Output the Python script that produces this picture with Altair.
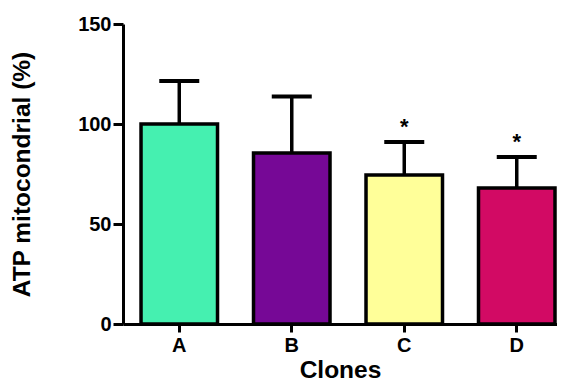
import altair as alt
import pandas as pd

clones = ["A", "B", "C", "D"]
means = [100, 85.5, 74.5, 68]
err_tops = [121.5, 113.7, 91, 83.5]
stars = ["", "", "*", "*"]
colors = ["#45F0B0", "#760896", "#FFFF99", "#D20A64"]

df = pd.DataFrame({"clone": clones, "mean": means, "top": err_tops, "star": stars})

FONT = "Liberation Sans"

x = alt.X("clone:N", sort=clones, title="Clones",
          scale=alt.Scale(paddingInner=0.32, paddingOuter=0.089, align=0.9),
          axis=alt.Axis(labelAngle=0, tickSize=8, labelPadding=3, titlePadding=3))
y_scale = alt.Scale(domain=[0, 150], nice=False)
y_axis = alt.Axis(values=[0, 50, 100, 150], tickSize=10, labelPadding=2,
                  titlePadding=43, grid=False)

base = alt.Chart(df)

rules = base.mark_rule(color="black", strokeWidth=3.5).encode(
    x=x, y=alt.Y("mean:Q", scale=y_scale, axis=y_axis, title="ATP mitocondrial (%)"),
    y2="top:Q")
caps = base.mark_tick(color="black", thickness=4, size=40, opacity=1).encode(
    x=x, y=alt.Y("top:Q", scale=y_scale))
bars = base.mark_bar(stroke="black", strokeWidth=3.5).encode(
    x=x, y=alt.Y("mean:Q", scale=y_scale, axis=y_axis, title="ATP mitocondrial (%)"),
    color=alt.Color("clone:N", scale=alt.Scale(domain=clones, range=colors), legend=None))
text = base.mark_text(font=FONT, fontSize=22, fontWeight="bold", baseline="middle",
                      dy=-15, color="black").encode(
    x=x, y=alt.Y("top:Q", scale=y_scale), text="star:N")

chart = alt.layer(rules, caps, bars, text).properties(
    width=434, height=300,
    autosize=alt.AutoSizeParams(type="none"),
    padding={"left": 115, "top": 16, "right": 0, "bottom": 59},
).configure_view(stroke=None).configure_axis(
    labelFont=FONT, titleFont=FONT, labelFontSize=20, labelFontWeight="bold",
    titleFontSize=24.5, titleFontWeight="bold", domainWidth=3, tickWidth=3,
    domainColor="black", tickColor="black", labelColor="black", titleColor="black",
)

chart.save("out.html", embed_options={"renderer": "svg", "actions": False})
